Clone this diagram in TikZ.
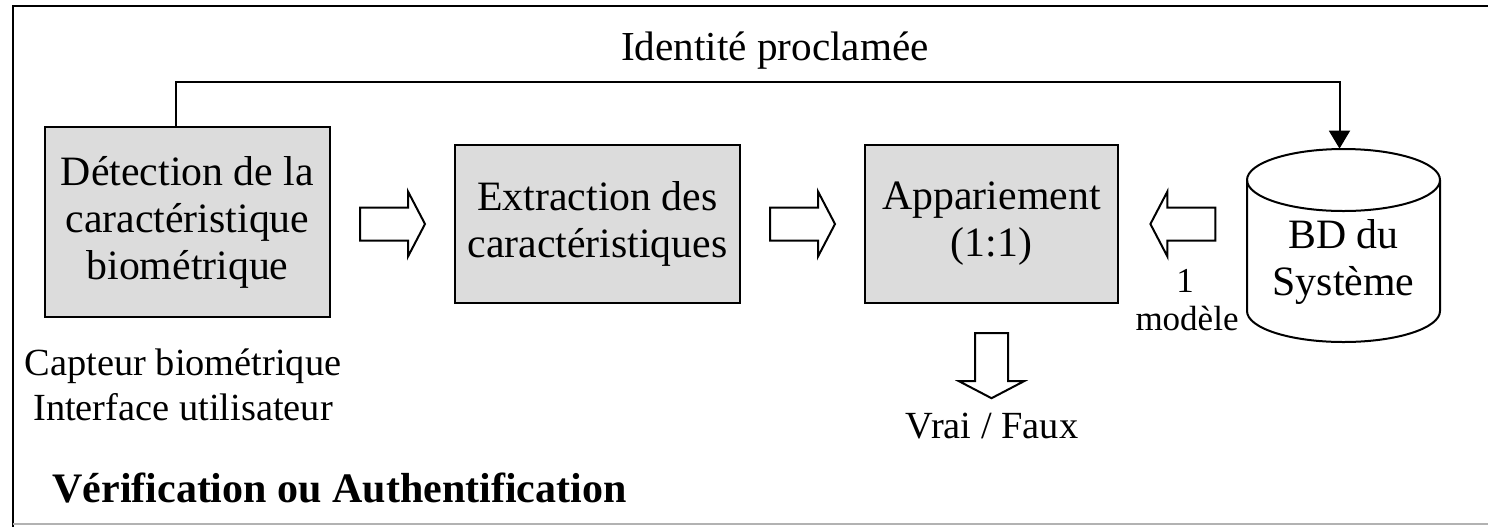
\documentclass[tikz,border=0pt]{standalone}
\usepackage{fontspec}
\setmainfont{Liberation Serif}
\usetikzlibrary{arrows.meta,calc}
\definecolor{boxgray}{HTML}{DCDCDC}
\begin{document}
\begin{tikzpicture}[x=0.5pt,y=-0.5pt,
  box/.style={draw=black, line width=1.2pt, fill=boxgray, inner sep=0pt, align=center,
              font=\fontsize{20.9}{23.5}\selectfont},
  lbl/.style={inner sep=0pt, anchor=base, font=\fontsize{19.2}{22}\selectfont},
  small/.style={inner sep=0pt, anchor=base, font=\fontsize{17.5}{19}\selectfont},
  link/.style={draw=black, line width=1pt},
  hollow/.style={draw=black, line width=1pt, fill=white, line join=miter},
  blockarr/.pic={\draw[hollow] (-32.5,-16.5) -- (15.5,-16.5) -- (15.5,-32.5) -- (32.5,0)
      -- (15.5,32.5) -- (15.5,16.5) -- (-32.5,16.5) -- cycle;}
]
\useasboundingbox (0,0) rectangle (1488,526);
% frame
\draw[line width=1pt] (13,530) -- (13,6) -- (1495,6);
\draw[black!30, line width=0.8pt] (13,524) -- (1495,524);

% boxes
\node[box, minimum width=142.5pt, minimum height=95pt] (det) at (187.5,222)
  {Détection de la\\caractéristique\\biométrique};
\node[box, minimum width=142.5pt, minimum height=79pt] (ext) at (597.5,224)
  {Extraction des\\caractéristiques};
\node[box, minimum width=126.5pt, minimum height=79pt] (app) at (991.5,224)
  {Appariement\\(1:1)};

% database cylinder
\node[minimum width=96.5pt, minimum height=96.5pt, inner sep=0pt] (db) at (1343.5,245.5) {};
\draw[line width=1pt, fill=white] (1247,180) -- (1247,311)
  arc[start angle=180, end angle=360, x radius=48.25pt, y radius=15.5pt] -- (1440,180);
\draw[line width=1pt] (1343.5,180) ellipse [x radius=48.25pt, y radius=15.5pt];
\node[align=center, inner sep=0pt, font=\fontsize{20.9}{23.5}\selectfont] (dbtxt) at (1343.5,262)
  {BD du\\Système};

% feedback connector
\draw[link, -{Triangle[length=9pt,width=10.5pt]}]
  ([xshift=66pt]det.north west) -- ++(0,-44) -| ([xshift=-2pt]db.north);
\node[inner sep=0pt, anchor=base, font=\fontsize{20.6}{23}\selectfont] (idp) at (775,60)
  {Identité proclamée};

% hollow block arrows
\pic at ($(det.east |- ext.center)!0.5!(ext.west)$) {blockarr};
\pic at ($(ext.east)!0.5!(app.west)$) {blockarr};
\pic[rotate=180] at ($(app.east)!0.5!(db.west |- app.east)$) {blockarr};
\pic[rotate=-90] at ($(app.south)+(0,61.5)$) {blockarr};

% labels
\node[lbl] (cap) at (183,375) {Capteur biométrique};
\node[lbl] (itf) at (183,420) {Interface utilisateur};
\node[small] (one) at (1185,292) {1};
\node[small] (mod) at (1187,330) {modèle};
\node[lbl] (vf) at (992,438) {Vrai / Faux};
\node[inner sep=0pt, anchor=base west, font=\fontsize{21}{23}\selectfont\bfseries] (ver)
  at (52,502) {Vérification ou Authentification};
\end{tikzpicture}
\end{document}
